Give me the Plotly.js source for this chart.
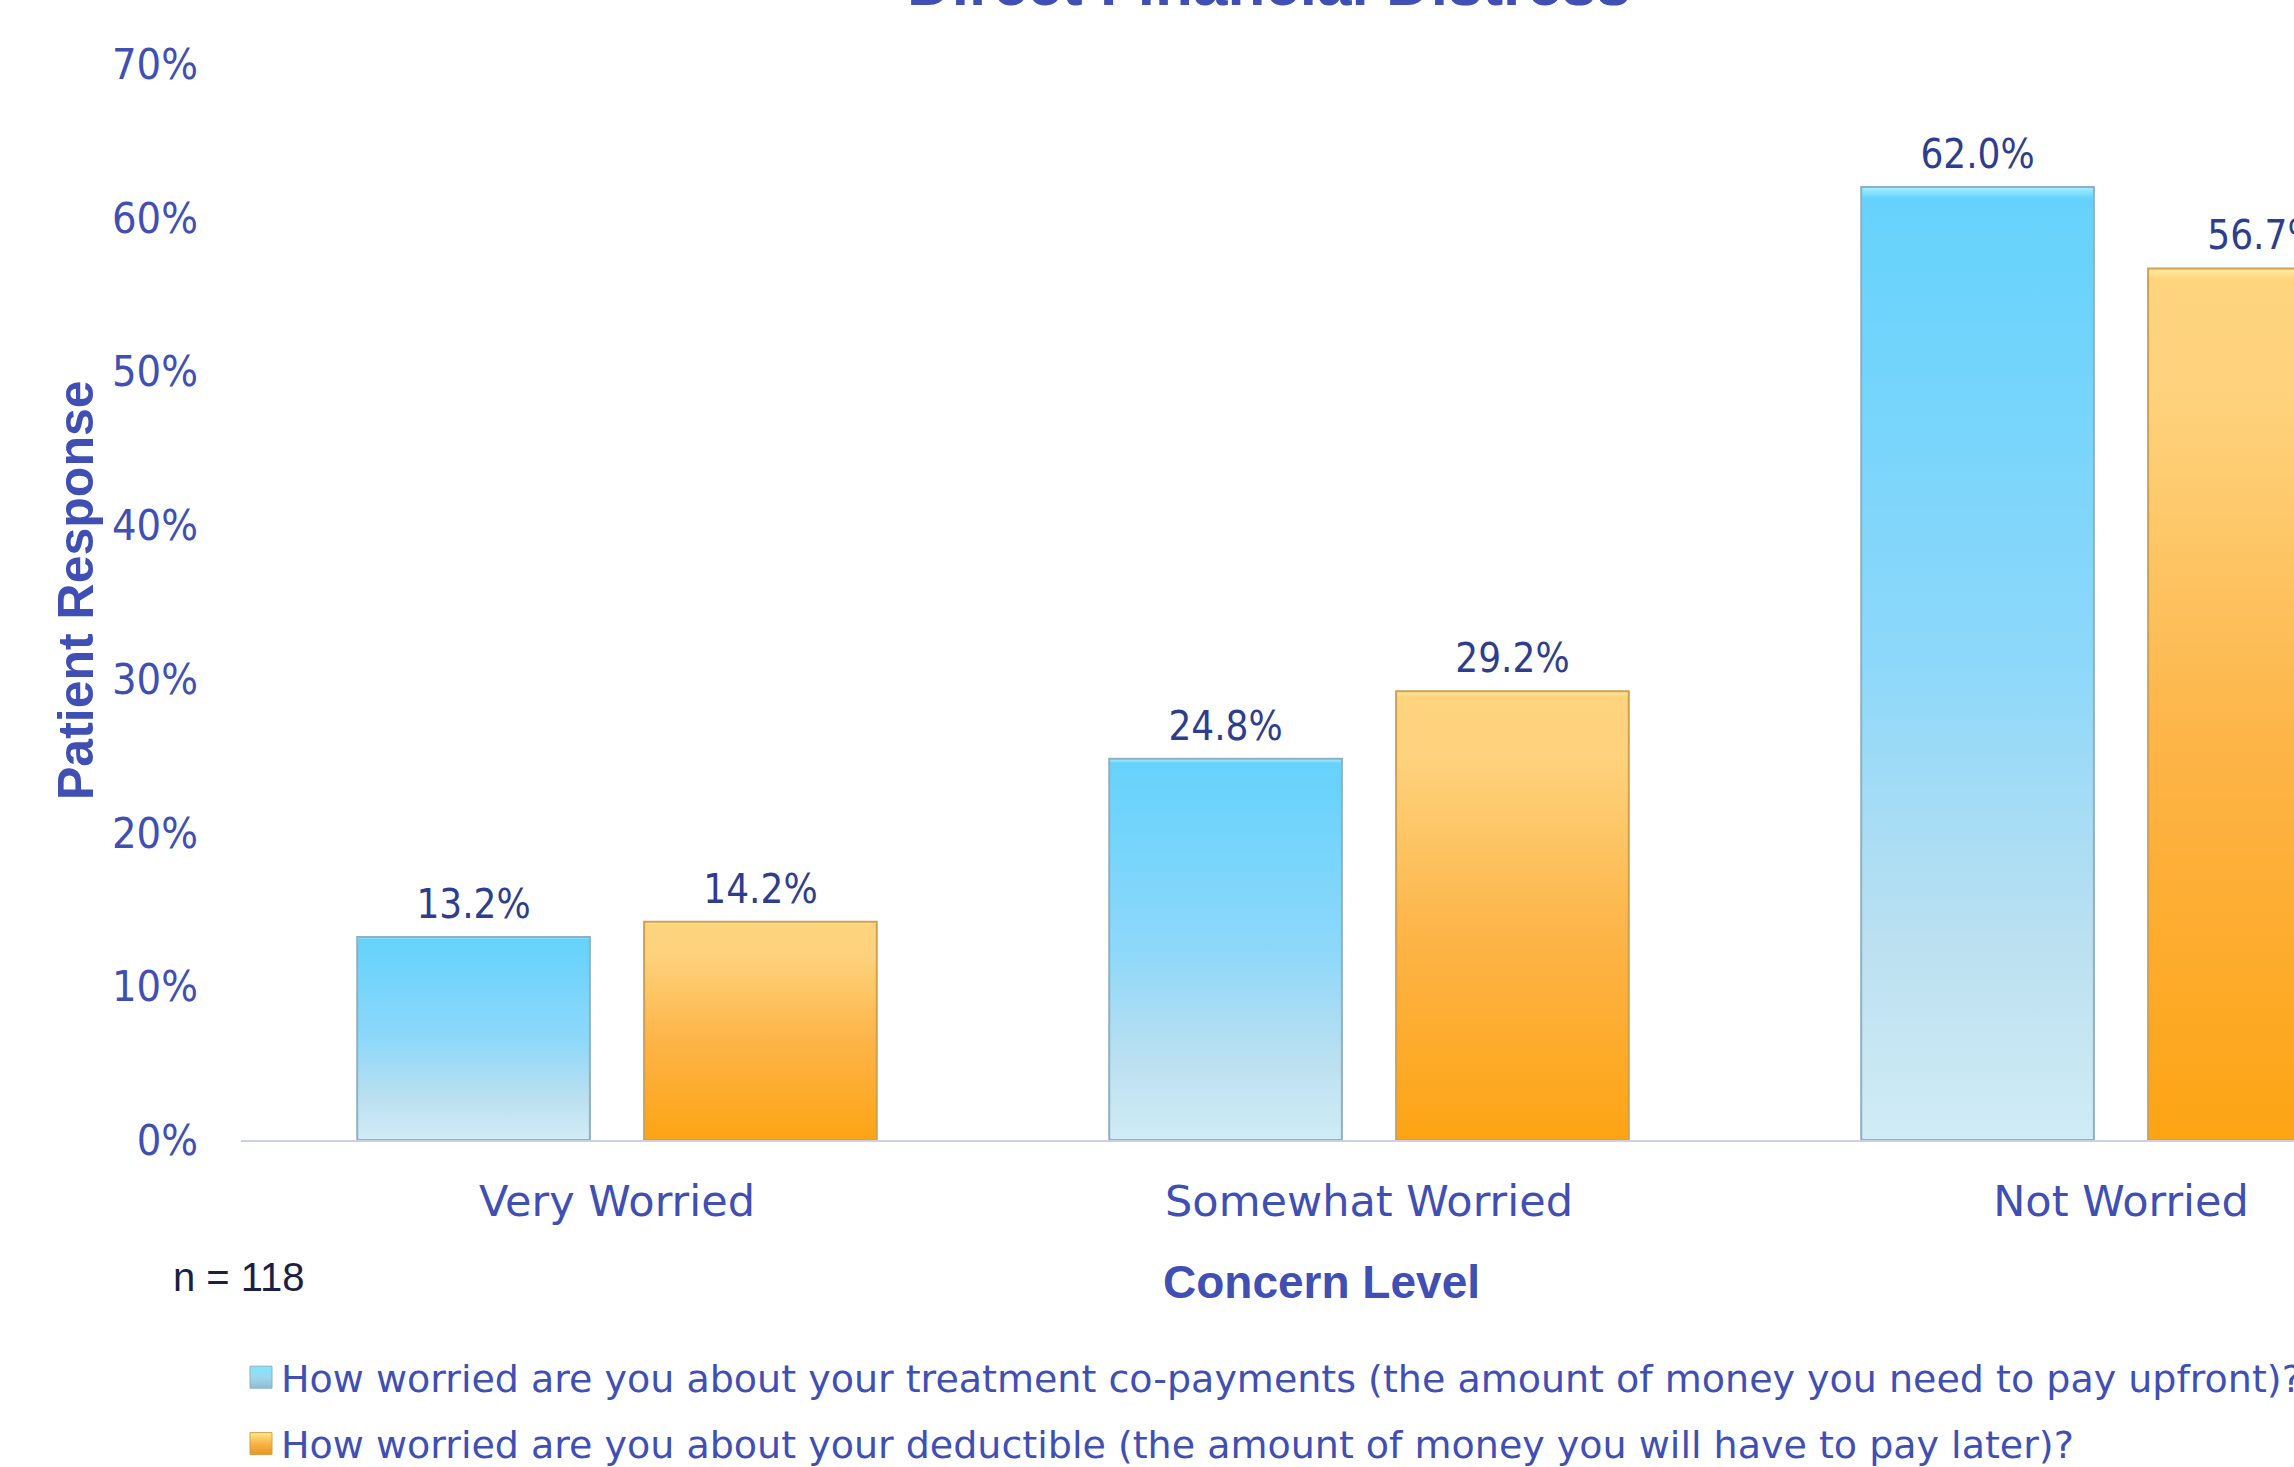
<!DOCTYPE html>
<html>
<head>
<meta charset="utf-8">
<script src="https://cdn.plot.ly/plotly-3.0.1.min.js"></script>
<style>
html,body{margin:0;padding:0;overflow:hidden;background:#fff;}
#chart{width:2600px;height:1467px;}
</style>
</head>
<body>
<div id="chart"></div>
<script>
const categories = ["Very Worried", "Somewhat Worried", "Not Worried"];
const copayValues = [13.2, 24.8, 62.0];
const deductibleValues = [14.2, 29.2, 56.7];
const seriesNames = [
  "How worried are you about your treatment co-payments (the amount of money you need to pay upfront)?",
  "How worried are you about your deductible (the amount of money you will have to pay later)?"
];
const yTickValues = [0, 10, 20, 30, 40, 50, 60, 70];
const yTickLabels = ["0%", "10%", "20%", "30%", "40%", "50%", "60%", "70%"];
const chartTitle = "Direct Financial Distress";
const xTitle = "Concern Level";
const yTitle = "Patient Response";
const noteText = "n = 118";

const axisBlue = "#3F4FB3";
const labelBlue = "#2E3D8C";
const narrowFont = {family: "Liberation Sans Narrow, DejaVu Sans Condensed, Liberation Sans, sans-serif", stretch: "condensed"};

const traces = [
  {
    type: "bar", name: seriesNames[0], x: categories, y: copayValues,
    legendgroup: "a",
    marker: {color: "#8AD8FA", line: {color: "#8FB0C2", width: 2}},
    texttemplate: "%{y:.1f}%", textposition: "outside", cliponaxis: false,
    textfont: Object.assign({size: 40, color: labelBlue}, narrowFont),
    hoverinfo: "skip"
  },
  {
    type: "bar", name: seriesNames[1], x: categories, y: deductibleValues,
    legendgroup: "b",
    marker: {color: "#FDBA52", line: {color: "#CFA050", width: 2}},
    texttemplate: "%{y:.1f}%", textposition: "outside", cliponaxis: false,
    textfont: Object.assign({size: 40, color: labelBlue}, narrowFont),
    hoverinfo: "skip"
  }
];

const layout = {
  width: 2600, height: 1467,
  margin: {l: 241, r: 103, t: 64, b: 327, autoexpand: false},
  paper_bgcolor: "#ffffff", plot_bgcolor: "#ffffff",
  barmode: "group", bargap: 0.237, bargroupgap: 0.189,
  showlegend: true,
  legend: {
    orientation: "v", x: 0.0, xanchor: "left",
    yref: "container", y: 1 - 1346 / 1467, yanchor: "top",
    font: {family: "DejaVu Sans, sans-serif", size: 38, color: axisBlue},
    tracegroupgap: 14, traceorder: "grouped", bgcolor: "rgba(0,0,0,0)"
  },
  xaxis: {
    type: "category", showgrid: false, zeroline: false,
    showline: true, linecolor: "#CBCFEA", linewidth: 2,
    ticks: "", ticklabelstandoff: 22,
    tickfont: {family: "DejaVu Sans, sans-serif", size: 43, color: axisBlue}
  },
  yaxis: {
    range: [0, 70], tickmode: "array", tickvals: yTickValues, ticktext: yTickLabels,
    showgrid: false, zeroline: false, showline: false,
    ticks: "", ticklabelstandoff: 42,
    tickfont: Object.assign({size: 43, color: axisBlue}, narrowFont)
  },
  annotations: [
    {text: "<b>" + chartTitle + "</b>", xref: "paper", yref: "paper",
     x: (1269 - 241) / 2256, y: 1.075, xanchor: "center", yanchor: "middle", showarrow: false,
     font: {family: "Liberation Sans, Arial, sans-serif", size: 62, color: axisBlue}},
    {text: "<b>" + xTitle + "</b>", xref: "paper", yref: "paper",
     x: (1321 - 241) / 2256, y: -(1282 - 1140) / 1076, xanchor: "center", yanchor: "middle", showarrow: false,
     font: {family: "Liberation Sans, Arial, sans-serif", size: 46, color: axisBlue}},
    {text: "<b>" + yTitle + "</b>", xref: "paper", yref: "paper", textangle: -90,
     x: -(241 - 76) / 2256, y: (1140 - 590) / 1076, xanchor: "center", yanchor: "middle", showarrow: false,
     font: {family: "Liberation Sans, Arial, sans-serif", size: 50, color: axisBlue}},
    {text: noteText, xref: "paper", yref: "paper",
     x: (171 - 241) / 2256, y: -(1277 - 1140) / 1076, xanchor: "left", yanchor: "middle", showarrow: false,
     font: {family: "Liberation Sans, Arial, sans-serif", size: 40, color: "#1B1F45"}}
  ]
};

function applyGradients(gd) {
  const svg = gd.querySelector("svg.main-svg");
  if (!svg) return;
  const ns = "http://www.w3.org/2000/svg";
  let defs = svg.querySelector("defs");
  if (!defs) { defs = document.createElementNS(ns, "defs"); svg.insertBefore(defs, svg.firstChild); }
  function grad(id, stops) {
    const g = document.createElementNS(ns, "linearGradient");
    g.setAttribute("id", id);
    g.setAttribute("x1", "0"); g.setAttribute("y1", "0");
    g.setAttribute("x2", "0"); g.setAttribute("y2", "1");
    stops.forEach(s => {
      const st = document.createElementNS(ns, "stop");
      st.setAttribute("offset", s[0]); st.setAttribute("stop-color", s[1]);
      g.appendChild(st);
    });
    defs.appendChild(g);
  }
  grad("gBlue", [["0", "#A6F0FF"], ["0.012", "#66D2FB"], ["0.08", "#6AD3FC"], ["0.5", "#8DD8FA"], ["0.8", "#BCE0F0"], ["1", "#D0ECF6"]]);
  grad("gOrange", [["0", "#FFEE9E"], ["0.012", "#FED47E"], ["0.15", "#FED27C"], ["0.55", "#FDB447"], ["1", "#FDA414"]]);
  grad("gBlueLeg", [["0", "#7FE6FF"], ["0.5", "#9ED8EE"], ["1", "#8FBCD0"]]);
  grad("gOrangeLeg", [["0", "#FFE98A"], ["0.5", "#F9B446"], ["1", "#E99520"]]);
  const barTraces = gd.querySelectorAll(".barlayer .trace");
  barTraces.forEach((t, i) => {
    t.querySelectorAll("path").forEach(p => { p.style.fill = i === 0 ? "url(#gBlue)" : "url(#gOrange)"; });
    t.querySelectorAll("text.bartext").forEach(tx => {
      tx.setAttribute("transform", "translate(0,-7) " + (tx.getAttribute("transform") || ""));
    });
  });
  const legTraces = gd.querySelectorAll(".legend .traces");
  legTraces.forEach((t, i) => {
    t.querySelectorAll(".legendpoints path").forEach(p => {
      p.style.fill = i === 0 ? "url(#gBlueLeg)" : "url(#gOrangeLeg)";
      p.setAttribute("d", "M11,11H-11V-11H11Z");
      p.style.strokeWidth = "1px";
    });
  });
}

Plotly.newPlot("chart", traces, layout, {staticPlot: true, displayModeBar: false}).then(applyGradients);
</script>
</body>
</html>
